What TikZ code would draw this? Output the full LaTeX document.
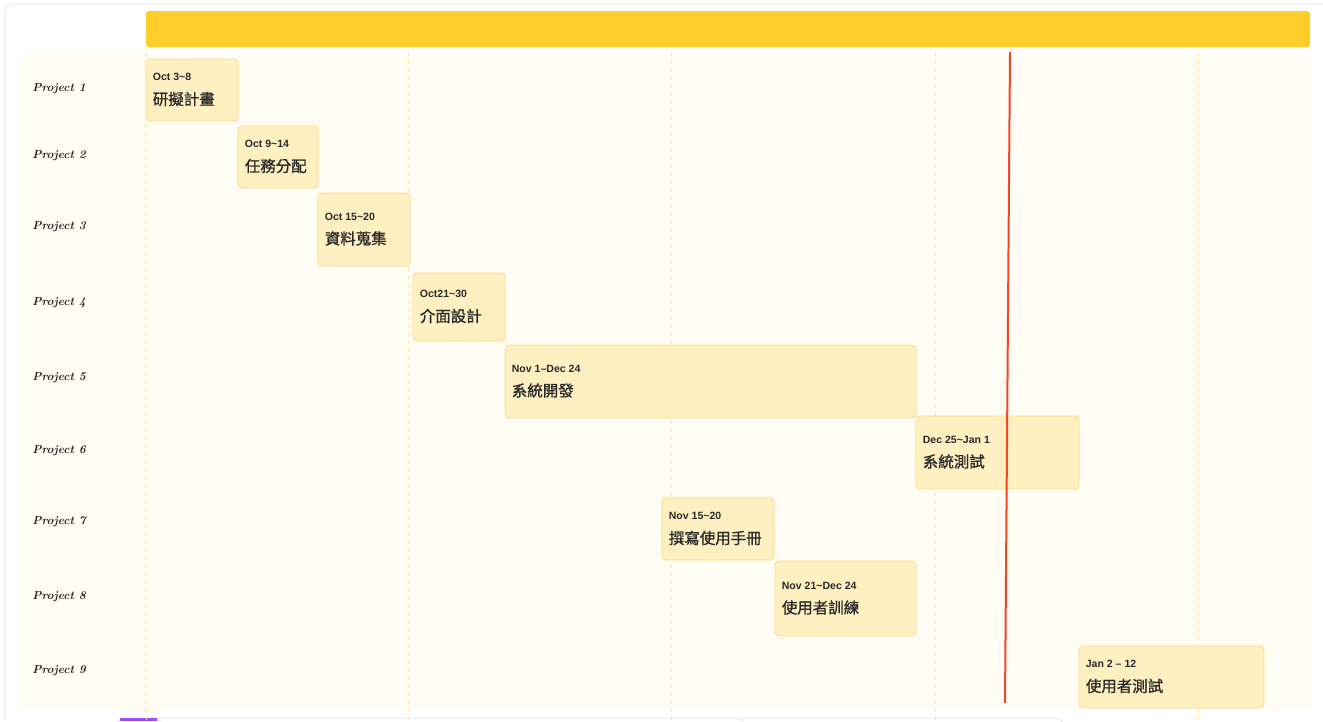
\documentclass[tikz,border=0pt]{standalone}
\usepackage{fontspec}
\newfontfamily\cjk[FakeBold=1.1]{Noto Sans CJK TC}
\newfontfamily\datefont{Liberation Sans}
\usetikzlibrary{positioning,fit}
\definecolor{headerY}{HTML}{FFCD2A}
\definecolor{panelY}{HTML}{FFFCF4}
\definecolor{gridY}{HTML}{FCE6A8}
\definecolor{boxFill}{HTML}{FFF0C2}
\definecolor{boxLine}{HTML}{FADB82}
\definecolor{txtD}{HTML}{2A2A2A}
\definecolor{redL}{HTML}{F1472A}
\definecolor{frameG}{HTML}{EDEDED}
\definecolor{purpleP}{HTML}{9B4DFF}
\tikzset{
  taskbox/.style={draw=boxLine, fill=boxFill, line width=0.6pt, rounded corners=3pt, inner sep=0pt},
  datetext/.style={font=\datefont\bfseries\fontsize{7.9}{9}\selectfont, text=txtD, inner sep=0pt, anchor=west},
  zhtext/.style={font=\cjk\fontsize{11.6}{13}\selectfont, text=txtD, inner sep=0pt, anchor=west},
  projlabel/.style={font=\bfseries\itshape\fontsize{8.8}{10}\selectfont, text=black!85, inner sep=0pt, anchor=west},
  gridline/.style={draw=gridY, line width=0.6pt, dash pattern=on 3pt off 3pt},
  redline/.style={draw=redL, line width=1.5pt},
}
\newcommand\taskbar[7]{%
  \coordinate (#1a) at (#2,#3);
  \coordinate (#1b) at (#4,#5);
  \node[taskbox, fit=(#1a)(#1b)] (#1) {};
  \node[datetext] (#1d) at ([xshift=5.25pt, yshift=9.75pt]#1.west) {#6};
  \node[zhtext] (#1z) at ([xshift=5.25pt, yshift=-6.75pt]#1.west) {#7};
}
\begin{document}
\begin{tikzpicture}[x=0.75pt, y=-0.75pt]
\useasboundingbox[fill=white] (0,0) rectangle (1323,721);
% outer frame
\draw[frameG, line width=0.8pt, rounded corners=6pt] (5,721) -- (5,4) -- (1323,4);
% bottom strip
\draw[frameG, line width=0.8pt, rounded corners=4pt] (118,721) -- (118,718.5) -- (1062,718.5) -- (1062,721);
\draw[frameG, line width=0.8pt] (742,718.5) -- (742,721);
\fill[purpleP] (120,718) rectangle (157,721);
% panel
\fill[panelY, rounded corners=5pt] (20,55) rectangle (1310,709);
% grid lines
\foreach \gx/\gn in {146/g1,408/g2,671/g3,935/g4,1198/g5}{
  \coordinate (\gn t) at (\gx,52);
  \coordinate (\gn b) at (\gx,721);
  \draw[gridline] (\gn t) -- (\gn b);
}
% header
\coordinate (ha) at (146,11);
\coordinate (hb) at (1310,47);
\node[fill=headerY, rounded corners=2pt, inner sep=0pt, fit=(ha)(hb)] (header) {};
% project labels
\node[projlabel] (p1) at (32,89) {Project 1};
\node[projlabel] (p2) at (32,156) {Project 2};
\node[projlabel] (p3) at (32,227) {Project 3};
\node[projlabel] (p4) at (32,303) {Project 4};
\node[projlabel] (p5) at (32,378) {Project 5};
\node[projlabel] (p6) at (32,451) {Project 6};
\node[projlabel] (p7) at (32,522) {Project 7};
\node[projlabel] (p8) at (32,597) {Project 8};
\node[projlabel] (p9) at (32,671) {Project 9};
% tasks
\taskbar{t1}{146}{59}{238}{121}{Oct 3\char`\~8}{研擬計畫}
\taskbar{t2}{238}{126}{318}{188}{Oct 9\char`\~14}{任務分配}
\taskbar{t3}{318}{193}{410}{266}{Oct 15\char`\~20}{資料蒐集}
\taskbar{t4}{413}{273}{505}{341}{Oct21\char`\~30}{介面設計}
\taskbar{t5}{505}{345}{916}{418}{Nov 1–Dec 24}{系統開發}
\taskbar{t6}{916}{416}{1079}{489}{Dec 25\char`\~Jan 1}{系統測試}
\taskbar{t7}{662}{498}{774}{560}{Nov 15\char`\~20}{撰寫使用手冊}
\taskbar{t8}{775}{561}{916}{636}{Nov 21\char`\~Dec 24}{使用者訓練}
\taskbar{t9}{1079}{646}{1264}{708}{Jan 2 – 12}{使用者測試}
% today line
\coordinate (rt) at (1010,52);
\coordinate (rb) at (1005,703);
\draw[redline] (rt) -- (rb);
\end{tikzpicture}
\end{document}
